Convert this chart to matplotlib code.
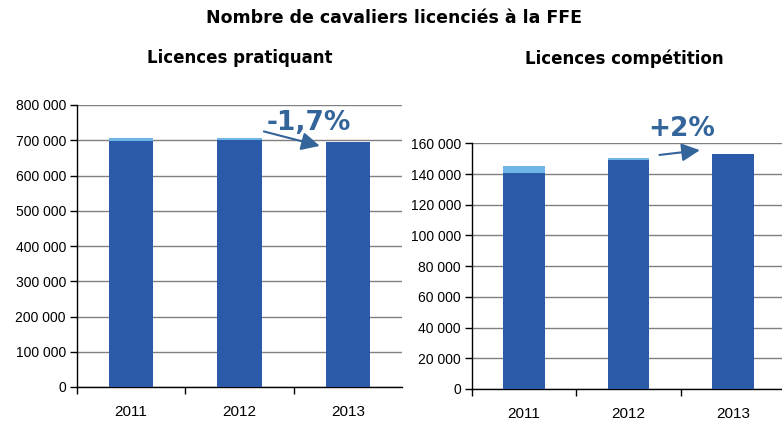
import matplotlib
matplotlib.use("Agg")
import matplotlib.pyplot as plt
import numpy as np

years = ["2011", "2012", "2013"]
prat_dark = [698000, 702000, 694000]
prat_light = [8000, 3000, 0]
comp_dark = [140400, 149100, 153100]
comp_light = [5100, 1100, 0]
prat_ticks = [0, 100000, 200000, 300000, 400000, 500000, 600000, 700000, 800000]
comp_ticks = [0, 20000, 40000, 60000, 80000, 100000, 120000, 140000, 160000]

DARK = "#2B5BA8"
LIGHT = "#6DB6E6"
ANN = "#33649A"

W, H = 782, 428
fig = plt.figure(figsize=(W/100, H/100), dpi=100)

def fmt(v):
    return f"{v:,}".replace(",", " ")

def make_ax(rect, dark, light, ticks, bw):
    ax = fig.add_axes(rect)
    x = np.arange(len(years))
    ax.bar(x, dark, width=bw, color=DARK, zorder=3)
    ax.bar(x, light, bottom=dark, width=bw, color=LIGHT, zorder=3)
    ax.set_xlim(-0.5, 2.5)
    ax.set_ylim(ticks[0], ticks[-1])
    ax.set_yticks(ticks)
    ax.set_yticklabels([fmt(t) for t in ticks], fontfamily="Liberation Sans", fontsize=10)
    ax.set_xticks(x)
    ax.set_xticklabels(years, fontfamily="Liberation Sans", fontsize=11)
    ax.set_xticks([-0.5, 0.5, 1.5], minor=True)
    ax.tick_params(axis="x", which="major", length=0, pad=13)
    ax.tick_params(axis="x", which="minor", length=5, width=1, direction="out")
    ax.tick_params(axis="y", length=5, width=1, direction="out", pad=3)
    ax.grid(axis="y", color="#808080", linewidth=1, zorder=0)
    for s in ["top", "right"]:
        ax.spines[s].set_visible(False)
    ax.spines["left"].set_linewidth(1)
    ax.spines["bottom"].set_linewidth(1)
    return ax

ax1 = make_ax([77/W, 1-387/H, 325/W, 282/H], prat_dark, prat_light, prat_ticks, 0.41)
ax2 = make_ax([472/W, 1-389/H, 313/W, 245.7/H], comp_dark, comp_light, comp_ticks, 0.40)

ax1.annotate("", xy=(1.765, 682000), xytext=(1.2, 727000),
             arrowprops=dict(arrowstyle="-|>,head_length=1.1,head_width=0.55", color=ANN, lw=1.5),
             annotation_clip=False)
ax1.text(1.64, 748000, "-1,7%", color=ANN, fontsize=19, fontweight="bold",
         ha="center", va="center", family="DejaVu Sans", clip_on=False)

ax2.annotate("", xy=(1.71, 155700), xytext=(1.27, 152200),
             arrowprops=dict(arrowstyle="-|>,head_length=1.1,head_width=0.55", color=ANN, lw=1.5),
             annotation_clip=False)
ax2.text(1.51, 169300, "+2%", color=ANN, fontsize=19, fontweight="bold",
         ha="center", va="center", family="DejaVu Sans", clip_on=False)

fig.text(394/W, 1-18/H, "Nombre de cavaliers licenciés à la FFE", ha="center", va="center",
         fontsize=12.5, fontweight="bold", family="DejaVu Sans")
fig.text(240/W, 1-58/H, "Licences pratiquant", ha="center", va="center",
         fontsize=12, fontweight="bold", family="DejaVu Sans")
fig.text(624/W, 1-59/H, "Licences compétition", ha="center", va="center",
         fontsize=12, fontweight="bold", family="DejaVu Sans")

fig.savefig("out.png", dpi=100)
